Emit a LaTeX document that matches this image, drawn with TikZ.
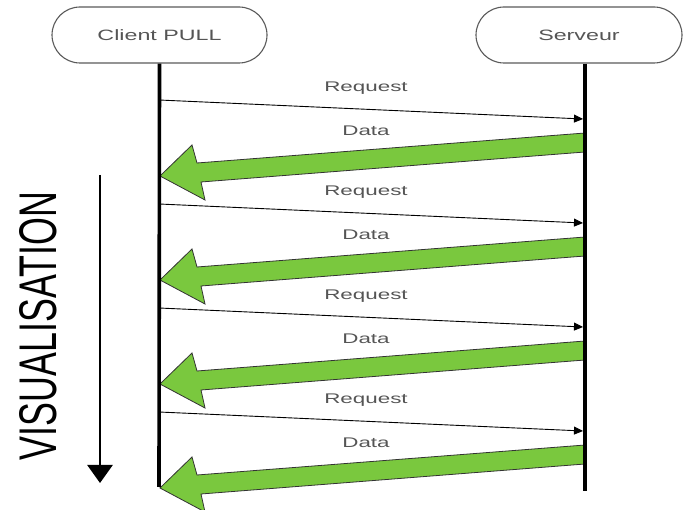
\documentclass[tikz,border=0pt]{standalone}
\usepackage{fontspec}
\setmainfont{Liberation Sans}
\usetikzlibrary{arrows.meta}
\definecolor{datagreen}{RGB}{122,200,62}
\definecolor{labelgray}{RGB}{85,85,85}
\definecolor{boxgray}{RGB}{90,90,90}
\tikzset{
  actor/.style={draw=boxgray, line width=1.1pt, fill=white, rounded corners=28pt,
    minimum height=56pt, inner sep=0pt, text=labelgray, font=\fontsize{15}{15}\selectfont},
  lifeline/.style={line width=3.6pt},
  request/.style={line width=0.9pt, -{Triangle[length=9pt,width=8pt]}},
  msglabel/.style={text=labelgray, font=\fontsize{14}{14}\selectfont, inner sep=0pt},
  fatarrow/.style={fill=datagreen, draw=black!80, line width=0.8pt, line join=miter},
  timeline/.style={line width=2.6pt, -{Triangle[length=18pt,width=25pt]}}
}
\begin{document}
\begin{tikzpicture}[x=1pt,y=-1pt]
  \useasboundingbox (0,0) rectangle (683,510);

  % participants
  \node[actor, minimum width=215pt] (client) at (159.5,35) {\scalebox{1.55}[1]{Client PULL}};
  \node[actor, minimum width=206pt] (server) at (579,35) {\scalebox{1.55}[1]{Serveur}};

  % ends of the lifelines
  \coordinate (clientEnd) at (159,487);
  \coordinate (serverEnd) at (585,491);

  % request / data exchanges, one every 104 units
  \foreach \k in {0,1,2,3} {
    \begin{scope}[yshift=-104*\k pt]
      \coordinate (rq\k a) at (159,100);
      \coordinate (rq\k b) at (583,119);
      \draw[request] (rq\k a) -- (rq\k b);
      \node[msglabel] (rql\k) at (366,88) {\scalebox{1.6}[1]{Request}};
      \node[msglabel] (dtl\k) at (366,131) {\scalebox{1.6}[1]{Data}};
      % broad data arrow from the server back to the client
      \draw[fatarrow] (585,133) -- (197,163) -- (192,145) -- (160,176)
        -- (205,200) -- (201,182) -- (585,152) -- cycle;
    \end{scope}
  }

  % lifelines
  \draw[lifeline] (client.south) -- (clientEnd);
  \draw[lifeline] (server.south -| serverEnd) -- (serverEnd);

  % time axis
  \coordinate (timeTop) at (100,175);
  \coordinate (timeEnd) at (100,483);
  \draw[timeline] (timeTop) -- (timeEnd);
  \node[rotate=90, inner sep=0pt, font=\fontsize{31}{31}\selectfont] (vis) at (38,326)
    {\resizebox{268pt}{37pt}{VISUALISATION}};
\end{tikzpicture}
\end{document}
